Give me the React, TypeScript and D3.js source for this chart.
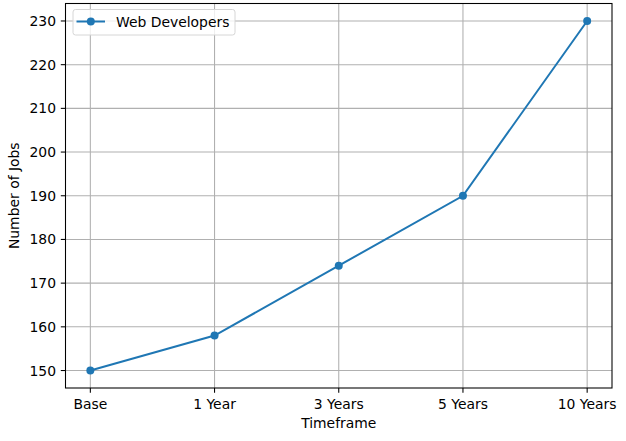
import React from 'react';
import * as d3 from 'd3';

// data
const categories = ['Base', '1 Year', '3 Years', '5 Years', '10 Years'];
const jobs = [150, 158, 174, 190, 230];
const yTicks = [150, 160, 170, 180, 190, 200, 210, 220, 230];

const width = 626;
const height = 441;
const plot = { left: 65.5, right: 612, top: 3.5, bottom: 388 };
const color = '#1f77b4';
const font = 'DejaVu Sans, sans-serif';
const fs = 13.9;

const App = () => {
  const idx = categories.map((d, i) => i);
  const x = d3.scaleLinear()
    .domain([-0.2, categories.length - 1 + 0.2])
    .range([plot.left, plot.right]);
  const y = d3.scaleLinear()
    .domain([146, 234])
    .range([plot.bottom, plot.top]);

  const line = d3.line<number>()
    .x((d, i) => x(i))
    .y(d => y(d));

  return (
    <svg width={width} height={height} style={{ position: 'absolute', left: 0, top: 0 }}
      fontFamily={font} fontSize={fs}>
      <rect width={width} height={height} fill="#fff" />
      {/* grid */}
      {idx.map(i => (
        <line key={'gx' + i} x1={x(i)} x2={x(i)} y1={plot.top} y2={plot.bottom}
          stroke="#b0b0b0" strokeWidth={1.07} />
      ))}
      {yTicks.map(t => (
        <line key={'gy' + t} x1={plot.left} x2={plot.right} y1={y(t)} y2={y(t)}
          stroke="#b0b0b0" strokeWidth={1.07} />
      ))}
      {/* series */}
      <path d={line(jobs) ?? ''} fill="none" stroke={color} strokeWidth={2} />
      {jobs.map((d, i) => (
        <circle key={'p' + i} cx={x(i)} cy={y(d)} r={4} fill={color} />
      ))}
      {/* frame */}
      <rect x={plot.left} y={plot.top} width={plot.right - plot.left} height={plot.bottom - plot.top}
        fill="none" stroke="#000" strokeWidth={1.07} />
      {/* x ticks */}
      {categories.map((c, i) => (
        <g key={'xt' + i} transform={`translate(${x(i)},${plot.bottom})`}>
          <line y1={0} y2={4.7} stroke="#000" strokeWidth={1.07} />
          <text y={20.5} textAnchor="middle" fill="#000">{c}</text>
        </g>
      ))}
      {/* y ticks */}
      {yTicks.map(t => (
        <g key={'yt' + t} transform={`translate(${plot.left},${y(t)})`}>
          <line x1={0} x2={-4.7} stroke="#000" strokeWidth={1.07} />
          <text x={-9.5} dy="0.36em" textAnchor="end" fill="#000">{t}</text>
        </g>
      ))}
      {/* axis labels */}
      <text x={(plot.left + plot.right) / 2} y={428} textAnchor="middle" fill="#000">Timeframe</text>
      <text transform={`translate(19,${(plot.top + plot.bottom) / 2}) rotate(-90)`}
        textAnchor="middle" fill="#000">Number of Jobs</text>
      {/* legend */}
      <rect x={73} y={9.5} width={162} height={25.5} rx={2.5} fill="#fff" fillOpacity={0.8}
        stroke="#d6d6d6" strokeWidth={1} />
      <line x1={76.5} x2={105} y1={21.5} y2={21.5} stroke={color} strokeWidth={2} />
      <circle cx={90.8} cy={21.5} r={4} fill={color} />
      <text x={116} y={21.5} dy="0.36em" fill="#000">Web Developers</text>
    </svg>
  );
};

export default App;
